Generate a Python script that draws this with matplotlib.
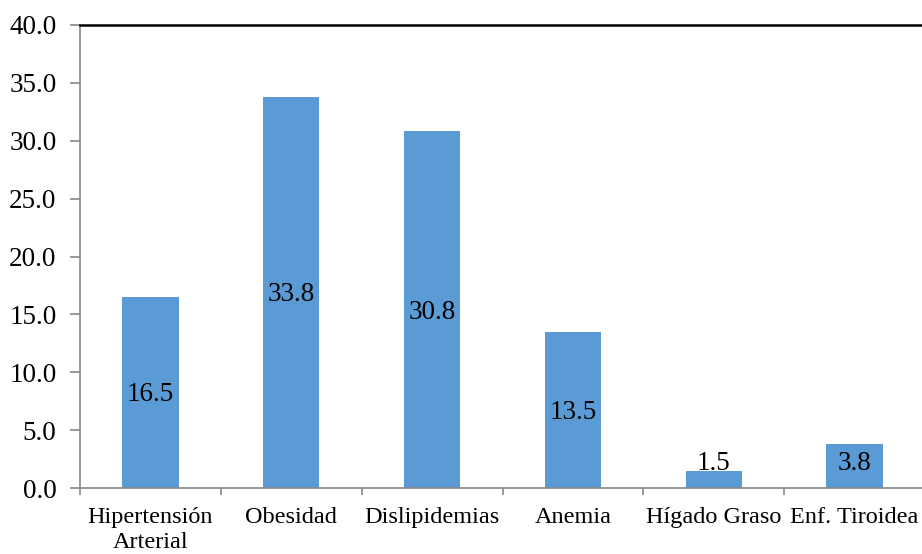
import matplotlib
matplotlib.use("Agg")
import matplotlib.pyplot as plt
import numpy as np

categories = ["Hipertensión\nArterial", "Obesidad", "Dislipidemias", "Anemia", "Hígado Graso", "Enf. Tiroidea"]
values = [16.5, 33.8, 30.8, 13.5, 1.5, 3.8]
yticks = [0, 5, 10, 15, 20, 25, 30, 35, 40]

plt.rcParams['font.family'] = ['Liberation Serif', 'DejaVu Serif']

fig = plt.figure(figsize=(9.22, 5.54), dpi=100)
# axes box runs slightly past the right edge of the canvas
ax = fig.add_axes([80 / 922, 1 - 488 / 554, 845 / 922, (488 - 25) / 554])

x = np.arange(len(categories))
ax.bar(x, values, width=0.4, color="#5B9BD5", zorder=2)

# value labels sit mid-bar, pushed up for the short ones
for xi, v in zip(x, values):
    ax.text(xi, max(v / 2, 2.3) - 0.2, f"{v:.1f}", ha="center", va="center", fontsize=19.5, color="black", zorder=3)

ax.set_xlim(-0.5, len(categories) - 0.5)
ax.set_ylim(0, 40)
ax.set_yticks(yticks)
ax.set_yticklabels([f"{t:.1f}" for t in yticks], fontsize=19.5)

ax.set_xticks(x)
ax.set_xticklabels(categories, fontsize=17.5, linespacing=1.2)
ax.set_xticks(np.arange(len(categories) + 1) - 0.5, minor=True)
ax.tick_params(axis="x", which="major", length=0, pad=14)
ax.tick_params(axis="x", which="minor", length=5, color="#888888", width=1.2)
ax.tick_params(axis="y", length=7, color="#888888", width=1.2, pad=10)

ax.spines["top"].set_color("black")
ax.spines["top"].set_linewidth(1.8)
ax.spines["right"].set_visible(False)
for s in ("left", "bottom"):
    ax.spines[s].set_color("#888888")
    ax.spines[s].set_linewidth(1.2)

fig.savefig("out.png", dpi=100)
